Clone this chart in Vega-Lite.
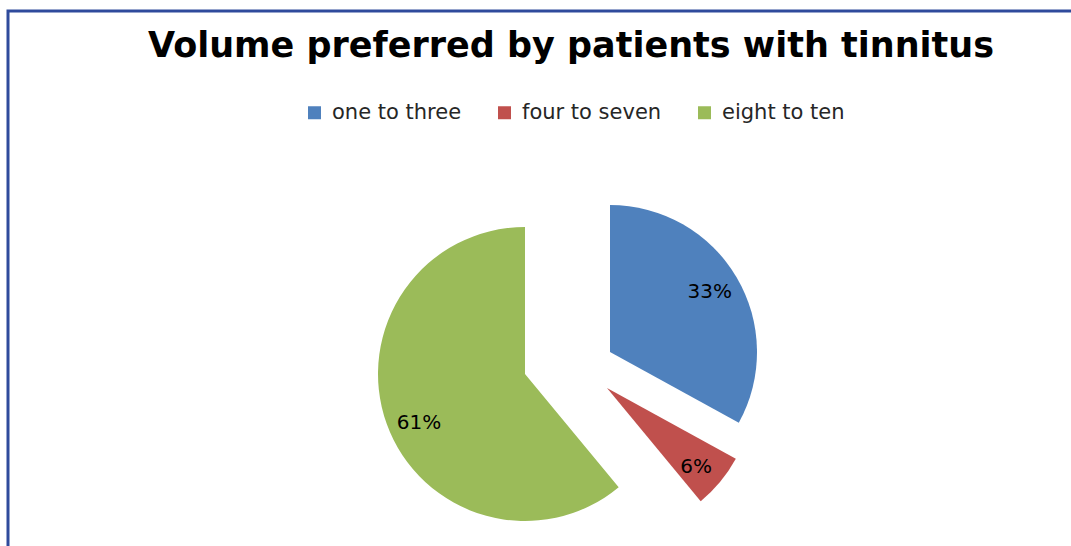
{
  "$schema": "https://vega.github.io/schema/vega-lite/v6.json",
  "autosize": "none",
  "width": 1066,
  "height": 540,
  "padding": {"left": 8, "top": 11, "right": 0, "bottom": 0},
  "background": "white",
  "view": {"stroke": "#2F4B9C", "strokeWidth": 3},
  "config": {"view": {"stroke": "#2F4B9C", "strokeWidth": 3}},
  "title": {
    "text": "Volume preferred by patients with tinnitus",
    "font": "DejaVu Sans",
    "fontSize": 35,
    "fontWeight": "bold",
    "color": "#000000",
    "anchor": "middle",
    "frame": "group",
    "baseline": "alphabetic",
    "offset": -46,
    "dx": 30,
    "dy": 35
  },
  "data": {
    "values": [
      {"category": "one to three", "value": 0.33},
      {"category": "four to seven", "value": 0.06},
      {"category": "eight to ten", "value": 0.61}
    ]
  },
  "transform": [{"stack": "value", "groupby": [], "as": ["s0", "s1"]}],
  "layer": [
    {
      "transform": [{"filter": "datum.category === 'one to three'"}],
      "mark": {"type": "arc", "radius": 147, "xOffset": 69, "yOffset": 71},
      "encoding": {
        "theta": {"field": "s0", "type": "quantitative", "scale": {"domain": [0, 1]}},
        "theta2": {"field": "s1"},
        "color": {
          "field": "category",
          "type": "nominal",
          "scale": {"domain": ["one to three", "four to seven", "eight to ten"], "range": ["#4F81BD", "#C0504D", "#9BBB59"]},
          "legend": {
            "title": null,
            "orient": "none",
            "legendX": 296,
            "legendY": 91,
            "direction": "horizontal",
            "columns": 3,
            "columnPadding": 32,
            "symbolType": "square",
            "symbolSize": 169,
            "symbolStrokeWidth": 0,
            "labelFont": "DejaVu Sans",
            "labelFontSize": 21,
            "labelColor": "#262626",
            "labelOffset": 7,
            "padding": 0
          }
        }
      }
    },
    {
      "transform": [{"filter": "datum.category === 'four to seven'"}],
      "mark": {"type": "arc", "radius": 147, "xOffset": 66, "yOffset": 107},
      "encoding": {
        "theta": {"field": "s0", "type": "quantitative"},
        "theta2": {"field": "s1"},
        "color": {"field": "category", "type": "nominal"}
      }
    },
    {
      "transform": [{"filter": "datum.category === 'eight to ten'"}],
      "mark": {"type": "arc", "radius": 147, "xOffset": -16, "yOffset": 93},
      "encoding": {
        "theta": {"field": "s0", "type": "quantitative"},
        "theta2": {"field": "s1"},
        "color": {"field": "category", "type": "nominal"}
      }
    },
    {
      "mark": {"type": "text", "radius": 117, "xOffset": 68, "yOffset": 71, "font": "DejaVu Sans", "fontSize": 20, "color": "#000000"},
      "encoding": {
        "theta": {"field": "value", "type": "quantitative", "stack": true},
        "order": {"field": "s0"},
        "detail": {"field": "category"},
        "text": {"condition": {"test": "datum.category === 'one to three'", "field": "value", "type": "quantitative", "format": ".0%"}, "value": ""}
      }
    },
    {
      "mark": {"type": "text", "radius": 117, "xOffset": 65, "yOffset": 111, "font": "DejaVu Sans", "fontSize": 20, "color": "#000000"},
      "encoding": {
        "theta": {"field": "value", "type": "quantitative", "stack": true},
        "order": {"field": "s0"},
        "detail": {"field": "category"},
        "text": {"condition": {"test": "datum.category === 'four to seven'", "field": "value", "type": "quantitative", "format": ".0%"}, "value": ""}
      }
    },
    {
      "mark": {"type": "text", "radius": 117, "xOffset": -12, "yOffset": 102, "font": "DejaVu Sans", "fontSize": 20, "color": "#000000"},
      "encoding": {
        "theta": {"field": "value", "type": "quantitative", "stack": true},
        "order": {"field": "s0"},
        "detail": {"field": "category"},
        "text": {"condition": {"test": "datum.category === 'eight to ten'", "field": "value", "type": "quantitative", "format": ".0%"}, "value": ""}
      }
    }
  ]
}
